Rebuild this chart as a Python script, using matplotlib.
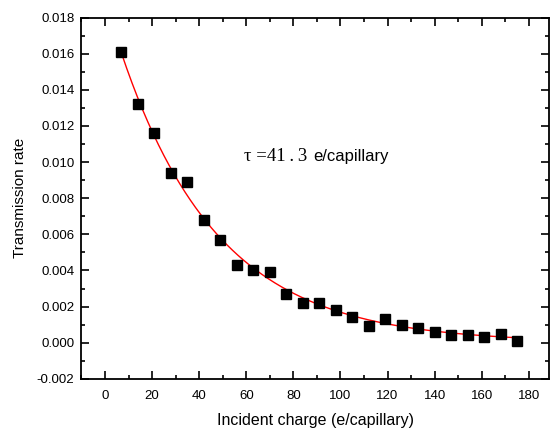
import numpy as np
import matplotlib
matplotlib.use("Agg")
import matplotlib.pyplot as plt
from matplotlib.ticker import MultipleLocator, FormatStrFormatter

plt.rcParams['font.family'] = ['Liberation Sans', 'DejaVu Sans']

charge = [7, 14, 21, 28, 35, 42, 49, 56, 63, 70, 77, 84, 91, 98, 105,
          112, 119, 126, 133, 140, 147, 154, 161, 168, 175]
rate = [0.0161, 0.0132, 0.0116, 0.0094, 0.0089, 0.0068, 0.0057, 0.0043,
        0.0040, 0.0039, 0.0027, 0.0022, 0.0022, 0.0018, 0.0014, 0.0009,
        0.0013, 0.0010, 0.0008, 0.0006, 0.0004, 0.0004, 0.0003, 0.0005,
        0.0001]

# exponential decay fit parameters
tau = 41.3
amp = 0.0190
y0 = 0.0

fig = plt.figure(figsize=(5.5, 4.3), dpi=100)
ax = fig.add_axes([0.148, 0.119, 0.850, 0.840])

xf = np.linspace(min(charge), max(charge), 300)
ax.plot(xf, y0 + amp * np.exp(-xf / tau), color='red', lw=1.0, zorder=2)
ax.plot(charge, rate, 's', color='black', ms=7, zorder=3)

ax.set_xlim(-10, 188.5)
ax.set_ylim(-0.002, 0.018)
ax.xaxis.set_major_locator(MultipleLocator(20))
ax.xaxis.set_minor_locator(MultipleLocator(10))
ax.yaxis.set_major_locator(MultipleLocator(0.002))
ax.yaxis.set_minor_locator(MultipleLocator(0.001))
ax.yaxis.set_major_formatter(FormatStrFormatter('%.3f'))

ax.tick_params(which='both', direction='in', top=True, right=True,
               labelsize=9.5, width=1.2)
ax.tick_params(which='major', length=6)
ax.tick_params(which='minor', length=3)
ax.tick_params(axis='x', which='major', pad=8)
ax.tick_params(axis='y', which='major', pad=5)
for s in ax.spines.values():
    s.set_linewidth(1.3)

ax.set_xlabel('Incident charge (e/capillary)', fontsize=11.5, labelpad=8)
ax.set_ylabel('Transmission rate', fontsize=11, labelpad=7)

ax.text(59, 0.0103, 'τ =41\u2009.\u20093', fontsize=13.5,
        family=['Liberation Serif', 'DejaVu Serif'], va='center', ha='left')
ax.text(88.5, 0.0103, 'e/capillary', fontsize=12, va='center', ha='left')

fig.savefig('out.png', dpi=100)
